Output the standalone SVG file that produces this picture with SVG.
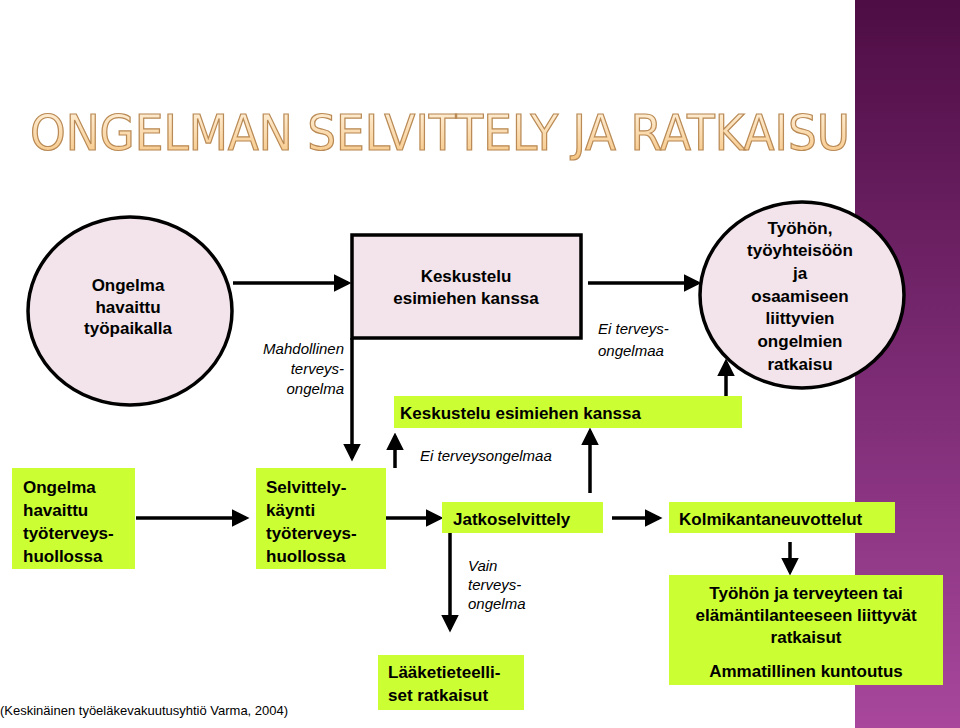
<svg xmlns="http://www.w3.org/2000/svg" width="960" height="728" viewBox="0 0 960 728">
<defs>
<linearGradient id="pg" x1="0" y1="0" x2="0" y2="1"><stop offset="0" stop-color="#4e0d44"/><stop offset="0.5" stop-color="#7a2a72"/><stop offset="1" stop-color="#a8479c"/></linearGradient>
<linearGradient id="tg" x1="0" y1="0" x2="0" y2="1"><stop offset="0" stop-color="#fff3e0"/><stop offset="1" stop-color="#f6c37e"/></linearGradient>
<marker id="ah" markerWidth="5" markerHeight="5" refX="4" refY="2.5" orient="auto" markerUnits="strokeWidth"><path d="M0,0 L5,2.5 L0,5 z" fill="#000"/></marker>
</defs>
<style>
.b{font-family:"Liberation Sans",Arial,sans-serif;font-weight:bold;font-size:17px;fill:#000}
.i{font-family:"Liberation Sans",Arial,sans-serif;font-style:italic;font-size:15px;fill:#000}
.g{fill:#ccff33}
.p{fill:#f2e4ea;stroke:#000;stroke-width:3.5}
.c{stroke:#000;stroke-width:3.5;fill:none;marker-end:url(#ah)}
.l{stroke:#000;stroke-width:3.5;fill:none}
</style>
<rect width="960" height="728" fill="#fff"/>
<rect x="855" y="0" width="105" height="728" fill="url(#pg)"/>
<text x="30" y="150" font-family="'DejaVu Sans Condensed','Liberation Sans',sans-serif" font-size="50" textLength="820" lengthAdjust="spacingAndGlyphs" fill="url(#tg)" stroke="#b98a55" stroke-width="1.2">ONGELMAN SELVITTELY JA RATKAISU</text>

<g id="connectors">
<line class="c" x1="233" y1="283" x2="348" y2="283"/>
<line class="c" x1="588" y1="283" x2="698" y2="283"/>
<line class="c" x1="352" y1="338" x2="352" y2="458"/>
<line class="c" x1="395" y1="468" x2="395" y2="436"/>
<line class="c" x1="590" y1="493" x2="590" y2="431"/>
<line class="c" x1="726" y1="396" x2="726" y2="362"/>
<line class="c" x1="136" y1="518" x2="246" y2="518"/>
<line class="c" x1="386" y1="518" x2="440" y2="518"/>
<line class="c" x1="612" y1="518" x2="659" y2="518"/>
<line class="c" x1="790" y1="542" x2="790" y2="572"/>
<line class="c" x1="450" y1="533" x2="450" y2="629"/>
</g>

<g id="circle1"><ellipse class="p" cx="130" cy="311" rx="102" ry="94"/>
<text class="b" text-anchor="middle"><tspan x="128" y="291">Ongelma</tspan><tspan x="128" y="313">havaittu</tspan><tspan x="128" y="334">työpaikalla</tspan></text></g>

<g id="box-keskustelu"><rect class="p" x="352" y="235" width="229" height="103"/>
<text class="b" text-anchor="middle"><tspan x="466" y="282">Keskustelu</tspan><tspan x="466" y="304">esimiehen kanssa</tspan></text></g>

<g id="circle2"><ellipse class="p" cx="802" cy="295" rx="102" ry="93"/>
<text class="b" text-anchor="middle"><tspan x="800" y="234">Työhön,</tspan><tspan x="800" y="256">työyhteisöön</tspan><tspan x="800" y="279">ja</tspan><tspan x="800" y="302">osaamiseen</tspan><tspan x="800" y="324">liittyvien</tspan><tspan x="800" y="347">ongelmien</tspan><tspan x="800" y="370">ratkaisu</tspan></text></g>

<g id="labels">
<text class="i" text-anchor="end"><tspan x="344" y="354">Mahdollinen</tspan><tspan x="344" y="374">terveys-</tspan><tspan x="344" y="394">ongelma</tspan></text>
<text class="i"><tspan x="598" y="334">Ei terveys-</tspan><tspan x="598" y="356">ongelmaa</tspan></text>
<text class="i" x="420" y="461">Ei terveysongelmaa</text>
<text class="i"><tspan x="468" y="571">Vain</tspan><tspan x="468" y="590">terveys-</tspan><tspan x="468" y="609">ongelma</tspan></text>
<text x="0" y="715" font-family="'Liberation Sans',Arial,sans-serif" font-size="13">(Keskinäinen työeläkevakuutusyhtiö Varma, 2004)</text>
</g>

<g id="bar-keskustelu"><rect class="g" x="394" y="396" width="348" height="32"/>
<text class="b" x="400" y="419">Keskustelu esimiehen kanssa</text></g>

<g id="box-tth"><rect class="g" x="12" y="468" width="123" height="101"/>
<text class="b"><tspan x="23" y="493">Ongelma</tspan><tspan x="23" y="516">havaittu</tspan><tspan x="23" y="539">työterveys-</tspan><tspan x="23" y="562">huollossa</tspan></text></g>

<g id="box-selv"><rect class="g" x="256" y="468" width="130" height="101"/>
<text class="b"><tspan x="266" y="493">Selvittely-</tspan><tspan x="266" y="516">käynti</tspan><tspan x="266" y="539">työterveys-</tspan><tspan x="266" y="562">huollossa</tspan></text></g>

<g id="box-jatko"><rect class="g" x="442" y="502" width="161" height="31"/>
<text class="b" x="453" y="525">Jatkoselvittely</text></g>

<g id="box-kolmi"><rect class="g" x="669" y="502" width="226" height="31"/>
<text class="b" x="679" y="525">Kolmikantaneuvottelut</text></g>

<g id="box-ratk"><rect class="g" x="669" y="575" width="274" height="110"/>
<text class="b" text-anchor="middle"><tspan x="806" y="599">Työhön ja terveyteen tai</tspan><tspan x="806" y="621">elämäntilanteeseen liittyvät</tspan><tspan x="806" y="643">ratkaisut</tspan><tspan x="806" y="677">Ammatillinen kuntoutus</tspan></text></g>

<g id="box-laake"><rect class="g" x="378" y="655" width="146" height="55"/>
<text class="b"><tspan x="388" y="678">Lääketieteelli-</tspan><tspan x="388" y="701">set ratkaisut</tspan></text></g>
</svg>
